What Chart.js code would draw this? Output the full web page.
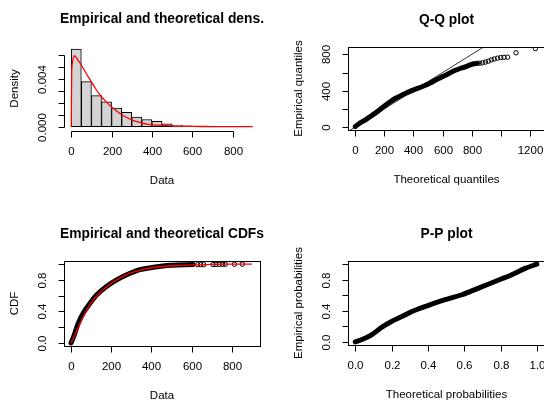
<!DOCTYPE html>
<html>
<head>
<meta charset="utf-8">
<script src="https://cdn.jsdelivr.net/npm/chart.js@4"></script>
<style>
  body { margin: 0; background: #fff; }
  #wrap { position: relative; width: 544px; height: 400px; overflow: hidden; background: #fff; }
  canvas { position: absolute; }
</style>
</head>
<body>
<div id="wrap">
  <canvas id="dens" width="272" height="200" style="left:0;top:0"></canvas>
  <canvas id="qq" width="280" height="200" style="left:272px;top:0"></canvas>
  <canvas id="cdf" width="272" height="200" style="left:0;top:200px"></canvas>
  <canvas id="pp" width="280" height="200" style="left:272px;top:200px"></canvas>
</div>
<script>
// histogram, bins of width 50
const binMids = [25, 75, 125, 175, 225, 275, 325, 375, 425, 475, 525, 575, 625];
const binDensity = [0.00645, 0.00375, 0.00258, 0.00207, 0.00154, 0.0012, 0.0008, 0.0006, 0.00045, 0.00024, 0.00014, 0.00006, 0.00003];

// fitted density (red)
const fitX = [0, 2, 5, 10, 16, 25, 33, 50, 75, 100, 125, 150, 175, 200, 225, 250, 275, 300, 325, 350, 375, 425, 475, 525, 600, 700, 800, 900];
const fitDensity = [0, 0.0044, 0.0052, 0.0057, 0.0059, 0.00575, 0.00554, 0.00513, 0.0044, 0.00372, 0.00305, 0.00249, 0.00204, 0.00164, 0.0013, 0.00099, 0.00076, 0.00057, 0.00042, 0.00031, 0.00022, 0.00013, 0.00008, 0.00005, 0.00002, 0.00001, 0, 0];

// Q-Q plot: dense part and the sparse upper tail
const qqTheo = [0, 30, 67, 100, 135, 170, 205, 240, 274, 310, 343, 380, 412, 450, 481, 515, 550, 585, 619, 650, 688, 720, 757, 790, 814, 840];
const qqEmp = [5, 42, 77, 112, 150, 193, 238, 278, 314, 343, 369, 396, 416, 438, 460, 486, 515, 543, 570, 596, 625, 645, 664, 684, 697, 702];
const qqTailTheo = [855, 875, 895, 915, 935, 955, 978, 1000, 1022, 1047, 1105, 1238];
const qqTailEmp = [703, 708, 716, 726, 740, 750, 759, 766, 768, 770, 818, 865];
const qqRef = [-100, 1400];

// empirical CDF (dense band + sparse tail) and fitted CDF
const ecdfX = [0, 10, 20, 36, 61, 95, 128, 178, 227, 277, 343, 410, 493, 608];
const ecdfY = [0, 0.06, 0.13, 0.25, 0.38, 0.505, 0.61, 0.72, 0.8, 0.865, 0.93, 0.96, 0.985, 0.995];
const ecdfTailX = [630, 645, 660, 706, 721, 737, 754, 767, 813, 852];
const ecdfTailY = [0.993, 0.994, 0.994, 0.995, 0.996, 0.996, 0.997, 0.998, 0.999, 1.0];
const fitCdfX = [0, 20, 45, 78, 111, 161, 210, 277, 360, 443, 526, 608, 700, 775, 900];
const fitCdfY = [0, 0.1, 0.247, 0.417, 0.545, 0.675, 0.775, 0.868, 0.933, 0.967, 0.982, 0.991, 0.996, 1.0, 1.0];

// P-P plot
const ppTheo = [0, 0.037, 0.092, 0.147, 0.2, 0.257, 0.312, 0.403, 0.495, 0.587, 0.679, 0.77, 0.862, 0.936, 1.0];
const ppEmp = [0, 0.03, 0.094, 0.19, 0.262, 0.325, 0.39, 0.47, 0.542, 0.606, 0.692, 0.777, 0.863, 0.945, 1.0];

// axis ticks and labels
const densXTicks = [0, 200, 400, 600, 800];
const densXLabels = ['0', '200', '400', '600', '800'];
const densYTicks = [0, 0.001, 0.002, 0.003, 0.004, 0.005, 0.006];
const densYLabels = ['0.000', '', '', '', '0.004', '', ''];
const qqXTicks = [0, 200, 400, 600, 800, 1000, 1200];
const qqXLabels = ['0', '200', '400', '600', '800', '', '1200'];
const qqYTicks = [0, 200, 400, 600, 800];
const qqYLabels = ['0', '', '400', '', '800'];
const probTicks = [0, 0.2, 0.4, 0.6, 0.8, 1.0];
const probLabels = ['0.0', '', '0.4', '', '0.8', ''];
const ppXLabels = ['0.0', '0.2', '0.4', '0.6', '0.8', '1.0'];

const FONT = '"Liberation Sans", Arial, sans-serif';
const pts = (xs, ys) => xs.map((v, i) => ({ x: v, y: ys[i] }));

function vtext(ctx, s, x, y) {
  ctx.save();
  ctx.translate(x, y);
  ctx.rotate(-Math.PI / 2);
  ctx.fillText(s, 0, 0);
  ctx.restore();
}

// base-R look: box, outward ticks, parallel labels
const rAxes = {
  id: 'rAxes',
  afterDatasetsDraw(chart, args, o) {
    const { ctx, chartArea: a, scales: { x, y } } = chart;
    const L = Math.round(a.left) + 0.5, R = Math.round(a.right) + 0.5;
    const T = Math.round(a.top) + 0.5, B = Math.round(a.bottom) + 0.5;
    ctx.save();
    ctx.strokeStyle = '#000';
    ctx.fillStyle = '#000';
    ctx.lineWidth = 1;
    if (o.box) ctx.strokeRect(L, T, R - L, B - T);

    const xp = o.xTicks.map(v => Math.round(x.getPixelForValue(v)) + 0.5);
    const yp = o.yTicks.map(v => Math.round(y.getPixelForValue(v)) + 0.5);
    ctx.beginPath();
    ctx.moveTo(xp[0], B);
    ctx.lineTo(xp[xp.length - 1], B);
    xp.forEach(p => { ctx.moveTo(p, B); ctx.lineTo(p, B + 6); });
    ctx.moveTo(L, yp[0]);
    ctx.lineTo(L, yp[yp.length - 1]);
    yp.forEach(p => { ctx.moveTo(L, p); ctx.lineTo(L - 6, p); });
    ctx.stroke();

    ctx.textAlign = 'center';
    ctx.textBaseline = 'middle';
    ctx.font = '11.5px ' + FONT;
    o.xLabels.forEach((s, i) => { if (s) ctx.fillText(s, xp[i], a.bottom + 21); });
    o.yLabels.forEach((s, i) => { if (s) vtext(ctx, s, a.left - 21, yp[i]); });
    ctx.fillText(o.xTitle, (a.left + a.right) / 2, a.bottom + 50);
    vtext(ctx, o.yTitle, a.left - 49, (a.top + a.bottom) / 2);
    ctx.font = 'bold 13.8px ' + FONT;
    ctx.fillText(o.title, (a.left + a.right) / 2, a.top - 27);
    ctx.restore();
  }
};

function scale(min, max) {
  return {
    type: 'linear', display: false, offset: false, min, max,
    afterBuildTicks: s => { s.ticks = [{ value: min }, { value: max }]; }
  };
}

function makeChart(id, padding, xr, yr, datasets, axes) {
  return new Chart(document.getElementById(id), {
    type: 'bar',
    data: { datasets },
    options: {
      responsive: false,
      animation: false,
      events: [],
      layout: { padding },
      scales: { x: scale(xr[0], xr[1]), y: scale(yr[0], yr[1]) },
      plugins: { legend: { display: false }, tooltip: { enabled: false }, rAxes: axes }
    },
    plugins: [rAxes]
  });
}

const band = (data, w) => ({
  type: 'line', data, borderColor: '#000', borderWidth: w, pointRadius: 0,
  borderCapStyle: 'round', borderJoinStyle: 'round', cubicInterpolationMode: 'monotone'
});
const circles = data => ({
  type: 'line', data, showLine: false, pointRadius: 2.2, pointBorderWidth: 1,
  pointBorderColor: '#000', pointBackgroundColor: 'rgba(0,0,0,0)'
});

makeChart('dens', { left: 64, top: 46, right: 12, bottom: 69 }, [-36, 936], [-0.00036, 0.00671], [
  {
    type: 'bar', data: pts(binMids, binDensity), backgroundColor: '#d3d3d3',
    borderColor: '#000', borderWidth: 1, borderSkipped: false,
    barPercentage: 1, categoryPercentage: 1, order: 2
  },
  {
    type: 'line', data: pts(fitX, fitDensity), borderColor: '#ff0000', borderWidth: 1.3,
    pointRadius: 0, cubicInterpolationMode: 'monotone', order: 1
  }
], {
  title: 'Empirical and theoretical dens.', xTitle: 'Data', yTitle: 'Density', box: false,
  xTicks: densXTicks, xLabels: densXLabels, yTicks: densYTicks, yLabels: densYLabels
});

makeChart('qq', { left: 76, top: 47, right: 7, bottom: 70 }, [-50, 1304], [-33, 882], [
  { type: 'line', data: pts(qqRef, qqRef), borderColor: '#000', borderWidth: 0.8, pointRadius: 0, clip: 0 },
  band(pts(qqTheo, qqEmp), 5),
  circles(pts(qqTailTheo, qqTailEmp))
], {
  title: 'Q-Q plot', xTitle: 'Theoretical quantiles', yTitle: 'Empirical quantiles', box: true,
  xTicks: qqXTicks, xLabels: qqXLabels, yTicks: qqYTicks, yLabels: qqYLabels
});

makeChart('cdf', { left: 64, top: 61, right: 12, bottom: 54 }, [-35, 940], [-0.04, 1.04], [
  { ...band(pts(ecdfX, ecdfY), 5), order: 2 },
  { ...circles(pts(ecdfTailX, ecdfTailY)), order: 2 },
  {
    type: 'line', data: pts(fitCdfX, fitCdfY), borderColor: '#ff0000', borderWidth: 1.3,
    pointRadius: 0, cubicInterpolationMode: 'monotone', order: 1
  }
], {
  title: 'Empirical and theoretical CDFs', xTitle: 'Data', yTitle: 'CDF', box: true,
  xTicks: densXTicks, xLabels: densXLabels, yTicks: probTicks, yLabels: probLabels
});

makeChart('pp', { left: 76, top: 61, right: 7, bottom: 55 }, [-0.04, 1.045], [-0.04, 1.04], [
  band(pts(ppTheo, ppEmp), 5)
], {
  title: 'P-P plot', xTitle: 'Theoretical probabilities', yTitle: 'Empirical probabilities', box: true,
  xTicks: probTicks, xLabels: ppXLabels, yTicks: probTicks, yLabels: probLabels
});
</script>
</body>
</html>
